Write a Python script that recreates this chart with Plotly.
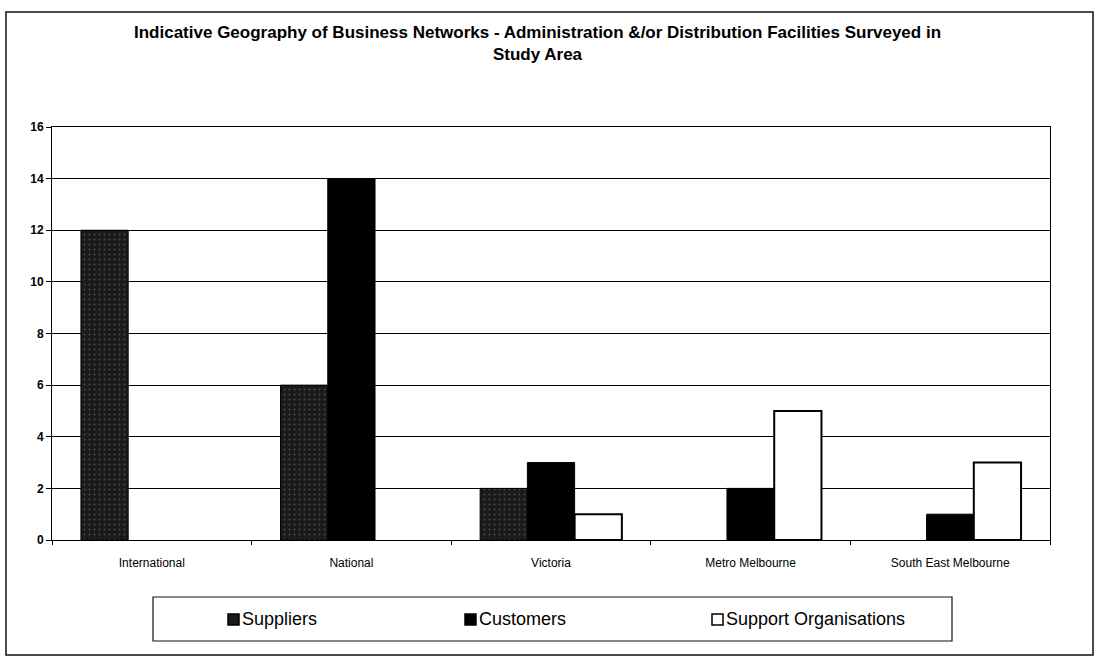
import plotly.graph_objects as go

# Survey counts by network geography
categories = ["International", "National", "Victoria", "Metro Melbourne", "South East Melbourne"]
suppliers = [12, 6, 2, 0, 0]
customers = [0, 14, 3, 2, 1]
support_orgs = [0, 0, 1, 5, 3]
series_names = ["Suppliers", "Customers", "Support Organisations"]
y_ticks = [0, 2, 4, 6, 8, 10, 12, 14, 16]

W, H = 1096, 672
L, R, T, B = 52, 1050, 127, 540  # plot area in pixels


def px_x(p):
    return (p - L) / (R - L)


def px_y(p):
    return (B - p) / (B - T)


def outline(values, width):
    # no outline on empty bars so nothing is drawn along the axis
    return [width if v else 0 for v in values]


FONT = "Liberation Sans, Arial, sans-serif"

fig = go.Figure()
fig.add_trace(go.Bar(
    x=categories, y=suppliers, name=series_names[0],
    marker=dict(color="#1a1a1a", line=dict(color="#000", width=outline(suppliers, 1)),
                pattern=dict(shape=".", fgcolor="#7a7a7a", bgcolor="#1a1a1a",
                             size=5, solidity=0.12)),
))
fig.add_trace(go.Bar(
    x=categories, y=customers, name=series_names[1],
    marker=dict(color="#000000", line=dict(color="#000", width=outline(customers, 1))),
))
fig.add_trace(go.Bar(
    x=categories, y=support_orgs, name=series_names[2],
    marker=dict(color="#ffffff", line=dict(color="#000", width=outline(support_orgs, 2))),
))

shapes = [
    # outer chart frame
    dict(type="rect", xref="paper", yref="paper",
         x0=px_x(6), x1=px_x(1093), y0=px_y(655), y1=px_y(12),
         line=dict(color="#111", width=1.5), fillcolor="rgba(0,0,0,0)", layer="below"),
    # legend frame
    dict(type="rect", xref="paper", yref="paper",
         x0=px_x(153), x1=px_x(952), y0=px_y(641), y1=px_y(597),
         line=dict(color="#111", width=1.2), fillcolor="rgba(0,0,0,0)"),
]

annotations = []
legend_x = [228, 465, 712]
legend_fill = ["#1a1a1a", "#000000", "#ffffff"]
for name, lx, fc in zip(series_names, legend_x, legend_fill):
    shapes.append(dict(type="rect", xref="paper", yref="paper",
                       x0=px_x(lx), x1=px_x(lx + 11), y0=px_y(625), y1=px_y(614),
                       line=dict(color="#000", width=1.5), fillcolor=fc))
    annotations.append(dict(text=name, xref="paper", yref="paper",
                            x=px_x(lx + 12), y=px_y(619), xanchor="left", yanchor="middle",
                            showarrow=False, font=dict(family=FONT, size=18, color="#000")))

annotations.append(dict(
    text="<b>Indicative Geography of Business Networks - Administration &/or Distribution Facilities Surveyed in<br>Study Area</b>",
    xref="paper", yref="paper", x=px_x(537), y=px_y(21), xanchor="center", yanchor="top",
    showarrow=False, align="center",
    font=dict(family=FONT, size=17, color="#000"),
))

fig.update_layout(
    width=W, height=H,
    margin=dict(l=L, r=W - R, t=T, b=H - B, pad=0),
    paper_bgcolor="white", plot_bgcolor="white",
    barmode="group", bargap=0.29, bargroupgap=0,
    showlegend=False,
    shapes=shapes, annotations=annotations,
    font=dict(family=FONT, color="#000"),
)
fig.update_xaxes(
    showline=True, linecolor="#000", linewidth=1, mirror=True,
    ticks="outside", tickson="boundaries", ticklen=4, tickcolor="#000",
    ticklabelstandoff=12,
    tickfont=dict(family=FONT, size=12, color="#000"), showgrid=False,
)
fig.update_yaxes(
    range=[0, 16], tickvals=y_ticks, ticktext=[f"<b>{v}</b>" for v in y_ticks],
    showline=True, linecolor="#000", linewidth=1, mirror=True,
    showgrid=True, gridcolor="#000", gridwidth=1,
    ticks="outside", ticklen=5, tickcolor="#000",
    tickfont=dict(family=FONT, size=12, color="#000"), zeroline=False,
)

fig.write_html("out.html")
